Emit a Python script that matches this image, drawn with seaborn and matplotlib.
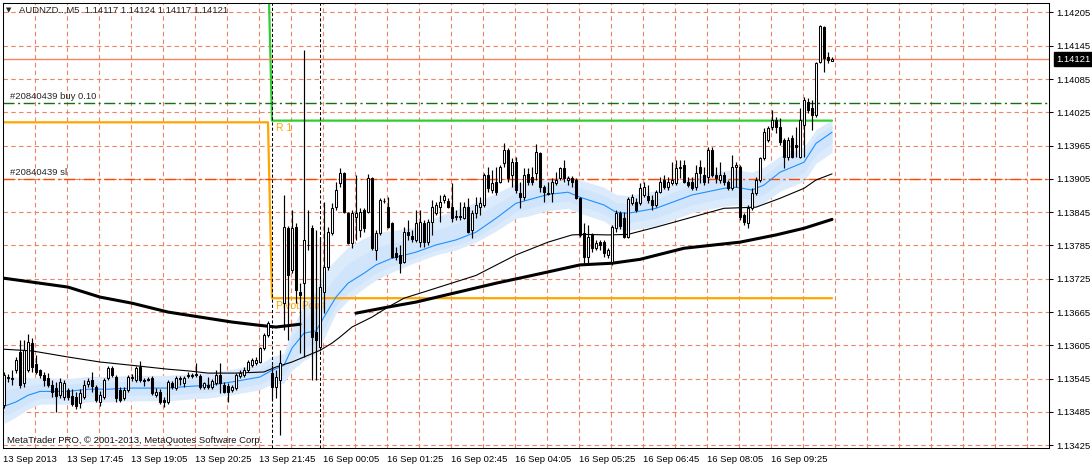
import numpy as np
import pandas as pd
import matplotlib
matplotlib.use("Agg")
import matplotlib.pyplot as plt
import matplotlib.transforms as mtransforms
import seaborn as sns

sns.set_style("white")
plt.rcParams["font.family"] = ["Liberation Sans", "DejaVu Sans"]

symbol_line = "AUDNZD..,M5  1.14117 1.14124 1.14117 1.14121"
copyright_line = "MetaTrader PRO, \u00a9 2001-2013, MetaQuotes Software Corp."

# AUDNZD M5 bars, 13 Sep 2013 16:25 onwards (one entry per bar)
opens = [
    1.13497, 1.13546, 1.13544, 1.13560, 1.13593, 1.13537, 1.13560, 1.13609, 1.13571, 1.13560,
    1.13551, 1.13546, 1.13533, 1.13528, 1.13515, 1.13512, 1.13524, 1.13513, 1.13512, 1.13501,
    1.13512, 1.13535, 1.13542, 1.13530, 1.13503, 1.13512, 1.13546, 1.13564, 1.13548, 1.13524,
    1.13510, 1.13524, 1.13546, 1.13542, 1.13566, 1.13542, 1.13544, 1.13546, 1.13515, 1.13521,
    1.13506, 1.13503, 1.13537, 1.13528, 1.13546, 1.13537, 1.13549, 1.13551, 1.13553, 1.13549,
    1.13530, 1.13533, 1.13530, 1.13537, 1.13551, 1.13533, 1.13531, 1.13524, 1.13528, 1.13549,
    1.13551, 1.13560, 1.13569, 1.13573, 1.13575, 1.13600, 1.13623, 1.13555, 1.13530, 1.13542,
    1.13681, 1.13816, 1.13741, 1.13818, 1.13701, 1.13717, 1.13786, 1.13816, 1.13629, 1.13602,
    1.13701, 1.13746, 1.13807, 1.13854, 1.13897, 1.13915, 1.13843, 1.13789, 1.13836, 1.13813,
    1.13849, 1.13845, 1.13906, 1.13777, 1.13807, 1.13865, 1.13854, 1.13825, 1.13771, 1.13768,
    1.13755, 1.13809, 1.13802, 1.13795, 1.13791, 1.13825, 1.13791, 1.13827, 1.13843, 1.13854,
    1.13867, 1.13865, 1.13854, 1.13836, 1.13838, 1.13834, 1.13854, 1.13813, 1.13843, 1.13854,
    1.13858, 1.13912, 1.13885, 1.13899, 1.13899, 1.13933, 1.13957, 1.13912, 1.13935, 1.13879,
    1.13872, 1.13914, 1.13908, 1.13915, 1.13951, 1.13890, 1.13879, 1.13879, 1.13897, 1.13906,
    1.13924, 1.13903, 1.13906, 1.13903, 1.13870, 1.13807, 1.13764, 1.13804, 1.13780, 1.13791,
    1.13791, 1.13768, 1.13755, 1.13816, 1.13843, 1.13834, 1.13800, 1.13861, 1.13863, 1.13861,
    1.13876, 1.13874, 1.13867, 1.13858, 1.13881, 1.13903, 1.13890, 1.13897, 1.13897, 1.13924,
    1.13930, 1.13899, 1.13899, 1.13890, 1.13926, 1.13912, 1.13908, 1.13957, 1.13912, 1.13903,
    1.13912, 1.13899, 1.13888, 1.13926, 1.13926, 1.13840, 1.13825, 1.13852, 1.13879, 1.13903,
    1.13942, 1.13975, 1.13998, 1.14011, 1.13998, 1.13975, 1.13944, 1.13978, 1.13966, 1.13944,
    1.14002, 1.14043, 1.14032, 1.14020, 1.14115, 1.14178, 1.14124, 1.14117,
]
highs = [
    1.13557, 1.13553, 1.13560, 1.13584, 1.13614, 1.13614, 1.13625, 1.13618, 1.13587, 1.13562,
    1.13557, 1.13555, 1.13542, 1.13539, 1.13546, 1.13542, 1.13528, 1.13526, 1.13521, 1.13526,
    1.13542, 1.13546, 1.13557, 1.13533, 1.13522, 1.13546, 1.13568, 1.13568, 1.13551, 1.13530,
    1.13530, 1.13551, 1.13553, 1.13568, 1.13577, 1.13546, 1.13548, 1.13549, 1.13528, 1.13526,
    1.13512, 1.13542, 1.13540, 1.13549, 1.13549, 1.13549, 1.13557, 1.13555, 1.13573, 1.13553,
    1.13539, 1.13548, 1.13544, 1.13560, 1.13573, 1.13539, 1.13537, 1.13533, 1.13555, 1.13560,
    1.13566, 1.13578, 1.13582, 1.13584, 1.13602, 1.13627, 1.13649, 1.13569, 1.13560, 1.13596,
    1.13876, 1.13820, 1.13849, 1.13825, 1.13717, 1.14137, 1.13849, 1.13822, 1.13813, 1.13800,
    1.13863, 1.13818, 1.13861, 1.13899, 1.13924, 1.13917, 1.13845, 1.13849, 1.13912, 1.13852,
    1.13852, 1.13914, 1.13908, 1.13813, 1.13870, 1.13870, 1.13872, 1.13827, 1.13782, 1.13786,
    1.13818, 1.13831, 1.13813, 1.13849, 1.13849, 1.13831, 1.13832, 1.13867, 1.13863, 1.13876,
    1.13877, 1.13870, 1.13897, 1.13849, 1.13863, 1.13863, 1.13870, 1.13849, 1.13872, 1.13872,
    1.13915, 1.13926, 1.13921, 1.13926, 1.13930, 1.13969, 1.13960, 1.13942, 1.13944, 1.13899,
    1.13924, 1.13924, 1.13926, 1.13968, 1.13953, 1.13894, 1.13899, 1.13906, 1.13917, 1.13926,
    1.13939, 1.13910, 1.13910, 1.13906, 1.13872, 1.13825, 1.13822, 1.13807, 1.13795, 1.13795,
    1.13795, 1.13780, 1.13822, 1.13849, 1.13847, 1.13845, 1.13872, 1.13877, 1.13870, 1.13897,
    1.13899, 1.13894, 1.13876, 1.13885, 1.13908, 1.13912, 1.13908, 1.13935, 1.13939, 1.13939,
    1.13939, 1.13908, 1.13908, 1.13930, 1.13939, 1.13926, 1.13962, 1.13962, 1.13926, 1.13935,
    1.13917, 1.13903, 1.13948, 1.13935, 1.13930, 1.13843, 1.13858, 1.13888, 1.13908, 1.13944,
    1.13996, 1.14000, 1.14029, 1.14016, 1.14014, 1.13978, 1.13980, 1.13984, 1.13998, 1.14032,
    1.14052, 1.14050, 1.14047, 1.14115, 1.14182, 1.14180, 1.14133, 1.14124,
]
lows = [
    1.13492, 1.13539, 1.13533, 1.13555, 1.13528, 1.13530, 1.13557, 1.13557, 1.13553, 1.13546,
    1.13531, 1.13530, 1.13512, 1.13485, 1.13510, 1.13506, 1.13506, 1.13495, 1.13490, 1.13492,
    1.13508, 1.13530, 1.13521, 1.13503, 1.13495, 1.13508, 1.13542, 1.13548, 1.13503, 1.13503,
    1.13506, 1.13521, 1.13540, 1.13539, 1.13539, 1.13531, 1.13540, 1.13515, 1.13512, 1.13499,
    1.13494, 1.13499, 1.13526, 1.13524, 1.13533, 1.13530, 1.13546, 1.13546, 1.13548, 1.13526,
    1.13526, 1.13526, 1.13526, 1.13533, 1.13519, 1.13519, 1.13503, 1.13521, 1.13524, 1.13546,
    1.13548, 1.13557, 1.13566, 1.13569, 1.13573, 1.13596, 1.13620, 1.13506, 1.13510, 1.13443,
    1.13632, 1.13614, 1.13735, 1.13681, 1.13591, 1.13584, 1.13777, 1.13542, 1.13542, 1.13596,
    1.13663, 1.13741, 1.13804, 1.13849, 1.13890, 1.13843, 1.13787, 1.13780, 1.13795, 1.13800,
    1.13809, 1.13843, 1.13777, 1.13759, 1.13804, 1.13861, 1.13816, 1.13762, 1.13759, 1.13735,
    1.13753, 1.13795, 1.13791, 1.13791, 1.13782, 1.13782, 1.13786, 1.13804, 1.13840, 1.13827,
    1.13861, 1.13852, 1.13827, 1.13831, 1.13831, 1.13832, 1.13807, 1.13798, 1.13834, 1.13840,
    1.13854, 1.13881, 1.13879, 1.13876, 1.13897, 1.13926, 1.13899, 1.13890, 1.13879, 1.13852,
    1.13867, 1.13894, 1.13894, 1.13903, 1.13881, 1.13863, 1.13876, 1.13863, 1.13894, 1.13903,
    1.13899, 1.13894, 1.13890, 1.13868, 1.13800, 1.13753, 1.13753, 1.13773, 1.13777, 1.13777,
    1.13764, 1.13762, 1.13750, 1.13809, 1.13814, 1.13798, 1.13798, 1.13858, 1.13845, 1.13858,
    1.13872, 1.13861, 1.13849, 1.13854, 1.13879, 1.13886, 1.13885, 1.13894, 1.13894, 1.13906,
    1.13897, 1.13890, 1.13885, 1.13885, 1.13897, 1.13894, 1.13897, 1.13908, 1.13897, 1.13897,
    1.13894, 1.13885, 1.13885, 1.13890, 1.13831, 1.13822, 1.13816, 1.13849, 1.13876, 1.13899,
    1.13939, 1.13971, 1.13993, 1.13987, 1.13966, 1.13924, 1.13939, 1.13942, 1.13944, 1.13942,
    1.13944, 1.14023, 1.13993, 1.14016, 1.14114, 1.14097, 1.14114, 1.14117,
]
closes = [
    1.13551, 1.13548, 1.13546, 1.13578, 1.13533, 1.13596, 1.13611, 1.13566, 1.13557, 1.13551,
    1.13542, 1.13533, 1.13521, 1.13513, 1.13539, 1.13537, 1.13512, 1.13499, 1.13495, 1.13519,
    1.13533, 1.13540, 1.13531, 1.13506, 1.13515, 1.13542, 1.13564, 1.13551, 1.13510, 1.13506,
    1.13524, 1.13548, 1.13548, 1.13564, 1.13542, 1.13541, 1.13543, 1.13519, 1.13521, 1.13503,
    1.13503, 1.13539, 1.13530, 1.13546, 1.13545, 1.13546, 1.13551, 1.13549, 1.13552, 1.13530,
    1.13537, 1.13530, 1.13540, 1.13551, 1.13537, 1.13521, 1.13521, 1.13530, 1.13551, 1.13555,
    1.13560, 1.13575, 1.13578, 1.13578, 1.13600, 1.13623, 1.13645, 1.13530, 1.13548, 1.13573,
    1.13818, 1.13731, 1.13816, 1.13704, 1.13695, 1.13795, 1.13785, 1.13620, 1.13614, 1.13710,
    1.13746, 1.13809, 1.13852, 1.13885, 1.13915, 1.13845, 1.13789, 1.13843, 1.13843, 1.13845,
    1.13816, 1.13906, 1.13780, 1.13807, 1.13867, 1.13866, 1.13818, 1.13764, 1.13764, 1.13753,
    1.13809, 1.13804, 1.13796, 1.13825, 1.13827, 1.13791, 1.13827, 1.13854, 1.13858, 1.13863,
    1.13874, 1.13854, 1.13834, 1.13838, 1.13836, 1.13854, 1.13809, 1.13843, 1.13858, 1.13861,
    1.13912, 1.13888, 1.13897, 1.13881, 1.13926, 1.13957, 1.13906, 1.13935, 1.13885, 1.13872,
    1.13912, 1.13899, 1.13899, 1.13953, 1.13890, 1.13881, 1.13878, 1.13899, 1.13903, 1.13924,
    1.13906, 1.13906, 1.13899, 1.13870, 1.13804, 1.13764, 1.13800, 1.13780, 1.13789, 1.13786,
    1.13771, 1.13777, 1.13818, 1.13843, 1.13820, 1.13800, 1.13868, 1.13872, 1.13849, 1.13888,
    1.13890, 1.13867, 1.13858, 1.13881, 1.13899, 1.13890, 1.13899, 1.13903, 1.13924, 1.13926,
    1.13899, 1.13894, 1.13888, 1.13915, 1.13915, 1.13899, 1.13957, 1.13912, 1.13906, 1.13912,
    1.13899, 1.13888, 1.13926, 1.13930, 1.13836, 1.13827, 1.13852, 1.13879, 1.13903, 1.13942,
    1.13989, 1.13996, 1.14011, 1.13998, 1.13971, 1.13944, 1.13975, 1.13944, 1.13962, 1.14011,
    1.14047, 1.14029, 1.14020, 1.14114, 1.14180, 1.14123, 1.14119, 1.14121,
]

time_labels = ["13 Sep 2013", "13 Sep 17:45", "13 Sep 19:05", "13 Sep 20:25",
               "13 Sep 21:45", "16 Sep 00:05", "16 Sep 01:25", "16 Sep 02:45",
               "16 Sep 04:05", "16 Sep 05:25", "16 Sep 06:45", "16 Sep 08:05",
               "16 Sep 09:25"]
label_every = 16   # bars between time labels
grid_every = 8     # bars between vertical grid lines

price_ticks = [1.13425, 1.13485, 1.13545, 1.13605, 1.13665, 1.13725, 1.13785,
               1.13845, 1.13905, 1.13965, 1.14025, 1.14085, 1.14145, 1.14205]

# fast MA (blue) with its channel, read at a few bars
blue_bars = [0, 3, 6, 9, 16, 21, 26, 32, 41, 46, 51, 57, 64, 67, 70, 72, 75, 78, 80, 83,
             86, 90, 93, 97, 103, 108, 113, 118, 123, 128, 131, 136, 141, 144, 150, 153,
             156, 163, 172, 180, 183, 187, 190, 194, 200, 203, 207]
blue_ma = [1.13495, 1.13503, 1.13515, 1.13522, 1.13522, 1.13526, 1.13526, 1.13528, 1.13528,
           1.13531, 1.13533, 1.13539, 1.13548, 1.13560, 1.13569, 1.13600, 1.13627, 1.13631,
           1.13656, 1.13692, 1.13717, 1.13735, 1.13750, 1.13762, 1.13773, 1.13786, 1.13795,
           1.13809, 1.13834, 1.13861, 1.13867, 1.13877, 1.13881, 1.13872, 1.13858, 1.13845,
           1.13843, 1.13852, 1.13876, 1.13888, 1.13890, 1.13885, 1.13894, 1.13917, 1.13935,
           1.13969, 1.13989]
band_up = [0.00054, 0.00045, 0.00032, 0.00025, 0.00023, 0.00023, 0.00023, 0.00023, 0.00023,
           0.00023, 0.00023, 0.00023, 0.00023, 0.00025, 0.00022, 0.00036, 0.00050, 0.00072,
           0.00081, 0.00068, 0.00065, 0.00063, 0.00058, 0.00050, 0.00045, 0.00050, 0.00054,
           0.00054, 0.00045, 0.00036, 0.00031, 0.00029, 0.00029, 0.00031, 0.00032, 0.00032,
           0.00032, 0.00032, 0.00032, 0.00032, 0.00032, 0.00032, 0.00032, 0.00029, 0.00027,
           0.00025, 0.00023]
band_dn = [0.00031, 0.00027, 0.00025, 0.00023, 0.00023, 0.00023, 0.00023, 0.00023, 0.00023,
           0.00023, 0.00023, 0.00023, 0.00023, 0.00025, 0.00032, 0.00040, 0.00049, 0.00040,
           0.00038, 0.00029, 0.00031, 0.00027, 0.00027, 0.00025, 0.00018, 0.00018, 0.00018,
           0.00018, 0.00023, 0.00027, 0.00029, 0.00029, 0.00029, 0.00029, 0.00029, 0.00031,
           0.00031, 0.00032, 0.00032, 0.00032, 0.00032, 0.00031, 0.00032, 0.00034, 0.00034,
           0.00036, 0.00036]

# slow MA (thin black)
slow_bars = [0, 7, 16, 24, 32, 41, 46, 51, 58, 65, 68, 72, 75, 79, 82, 84, 87, 92, 96, 100,
             104, 118, 128, 136, 142, 145, 151, 156, 163, 172, 180, 188, 194, 200, 203, 207]
slow_ma = [1.13598, 1.13595, 1.13584, 1.13575, 1.13569, 1.13562, 1.13559, 1.13555, 1.13555,
           1.13557, 1.13566, 1.13575, 1.13584, 1.13596, 1.13609, 1.13620, 1.13638, 1.13656,
           1.13674, 1.13690, 1.13699, 1.13731, 1.13768, 1.13791, 1.13804, 1.13805, 1.13804,
           1.13805, 1.13818, 1.13836, 1.13852, 1.13854, 1.13870, 1.13888, 1.13903, 1.13914]

# higher timeframe MA (thick black), Friday and Monday pieces
htf_fri_bars = [0, 7, 16, 24, 32, 41, 49, 57, 64, 68, 74]
htf_fri = [1.13726, 1.13719, 1.13710, 1.13692, 1.13681, 1.13665, 1.13656, 1.13647,
           1.13641, 1.13638, 1.13643]
htf_mon_bars = [88, 96, 103, 123, 132, 144, 152, 159, 170, 184, 193, 200, 207]
htf_mon = [1.13663, 1.13674, 1.13683, 1.13717, 1.13731, 1.13750, 1.13753, 1.13760,
           1.13780, 1.13791, 1.13804, 1.13816, 1.13832]

# daily pivots: Friday, Monday
session_start = [0, 67]
pivot_levels = [1.14007, 1.13690]
r1_levels = [1.14300, 1.14010]
separator_bars = [67, 79]

buy_price = 1.14041
sl_price = 1.13905
bid = 1.14121
order_buy = "#20840439 buy 0.10"
order_sl = "#20840439 sl"

GRID = "#EB8565"
W, H = 1092, 465

fig = plt.figure(figsize=(W / 100, H / 100), dpi=100)
ax = fig.add_axes([3 / W, 17 / H, 1046 / W, 445 / H])
ax.set_xlim(-0.25, 261.25)
ax.set_ylim(1.13420, 1.14222)

# grid
for p in price_ticks:
    ax.axhline(p, color=GRID, lw=0.8, ls=(0, (4, 3)), zorder=0)
for k in range(1, 33):
    ax.axvline(grid_every * k - 0.25, color=GRID, lw=0.8, ls=(0, (4, 3)), zorder=0)

# channel around the fast MA
band = pd.DataFrame({"bar": blue_bars, "ma": blue_ma, "up": band_up, "dn": band_dn})
ax.fill_between(band["bar"], band["ma"] + band["up"], band["ma"] - band["dn"],
                color="#DCEBFC", lw=0, zorder=1)
ax.fill_between(band["bar"], band["ma"] + 0.55 * band["up"], band["ma"] - 0.55 * band["dn"],
                color="#D0E5FB", lw=0, zorder=1)

# pivot lines
last = len(closes) - 1
mon = session_start[1]
piv = pd.DataFrame({
    "bar": [session_start[0], mon - 1, mon, last],
    "pivot": [pivot_levels[0], pivot_levels[0], pivot_levels[1], pivot_levels[1]],
    "r1": [r1_levels[0], r1_levels[0], r1_levels[1], r1_levels[1]],
})
sns.lineplot(data=piv, x="bar", y="pivot", ax=ax, color="#FFA500", lw=1.6, zorder=2)
sns.lineplot(data=piv, x="bar", y="r1", ax=ax, color="#32CD32", lw=1.6, zorder=2)
ax.annotate("R 1", xy=(mon, r1_levels[1]), xytext=(3, -2), textcoords="offset points",
            ha="left", va="top", color="#FFA500", fontsize=7.5, zorder=4)
ax.annotate("Pivot Point", xy=(mon, pivot_levels[1]), xytext=(3, -2),
            textcoords="offset points", ha="left", va="top", color="#FFA500",
            fontsize=7.5, zorder=4)

# period separators
for b in separator_bars:
    ax.axvline(b, color="black", lw=0.75, ls=(0, (3, 2)), zorder=2)

# order lines and bid
ax.axhline(buy_price, color="#157015", lw=1.0, ls=(0, (8, 2.5, 1.5, 2.5)), zorder=2)
ax.axhline(sl_price, color="#FF4500", lw=1.0, ls=(0, (8, 2.5, 1.5, 2.5)), zorder=2)
ax.axhline(bid, color="#F08566", lw=1.0, zorder=2)
trans = mtransforms.blended_transform_factory(ax.transAxes, ax.transData)
for txt, lvl in [(order_buy, buy_price), (order_sl, sl_price)]:
    ax.annotate(txt, xy=(7 / 1046, lvl), xycoords=trans, xytext=(0, 1.5),
                textcoords="offset points", ha="left", va="bottom", fontsize=6.8)

# moving averages
sns.lineplot(x=blue_bars, y=blue_ma, ax=ax, color="#1E90FF", lw=0.8, zorder=3)
sns.lineplot(x=slow_bars, y=slow_ma, ax=ax, color="black", lw=0.8, zorder=3)
sns.lineplot(x=htf_fri_bars, y=htf_fri, ax=ax, color="black", lw=2.2, zorder=3)
sns.lineplot(x=htf_mon_bars, y=htf_mon, ax=ax, color="black", lw=2.2, zorder=3)

# candles
bars = pd.DataFrame({"open": opens, "high": highs, "low": lows, "close": closes})
bars["bar"] = bars.index
rise = bars["close"] >= bars["open"]
body_bottom = bars[["open", "close"]].min(axis=1)
body_height = (bars["close"] - bars["open"]).abs().clip(lower=0.000004)
ax.vlines(bars["bar"], bars["low"], bars["high"], color="black", lw=0.85, zorder=5)
ax.bar(bars["bar"], body_height, bottom=body_bottom, width=0.72,
       color=np.where(rise, "white", "black"), edgecolor="black", lw=0.75, zorder=6)

# axes and ticks
ax.yaxis.tick_right()
ax.set_yticks(price_ticks)
ax.set_yticklabels([f"{p:.5f}" for p in price_ticks])
ax.set_xticks([label_every * k - 0.25 for k in range(len(time_labels))])
ax.set_xticklabels(time_labels, ha="left")
ax.tick_params(axis="both", direction="out", length=3, width=0.75,
               labelsize=6.8, colors="black")
ax.tick_params(axis="x", pad=2)
ax.tick_params(axis="y", pad=2.5)
ax.set_xlabel("")
ax.set_ylabel("")
ax.grid(False)
for s in ax.spines.values():
    s.set_color("black")
    s.set_linewidth(0.75)

ax.annotate(f"{bid:.5f}", xy=(1, bid), xycoords=trans, xytext=(5, 0),
            textcoords="offset points", ha="left", va="center", fontsize=6.8,
            color="white", annotation_clip=False, zorder=10,
            bbox=dict(boxstyle="square,pad=0.25", fc="black", ec="black"))

fig.text(9 / W, 1 - 10 / H, "\u25bc", family="DejaVu Sans", fontsize=5,
         ha="center", va="center")
fig.text(19 / W, 1 - 10 / H, symbol_line, ha="left", va="center", fontsize=6.8)
fig.text(7 / W, 1 - 440 / H, copyright_line, ha="left", va="center",
         fontsize=6.8, color="#111111")

fig.savefig("out.png", dpi=100)
